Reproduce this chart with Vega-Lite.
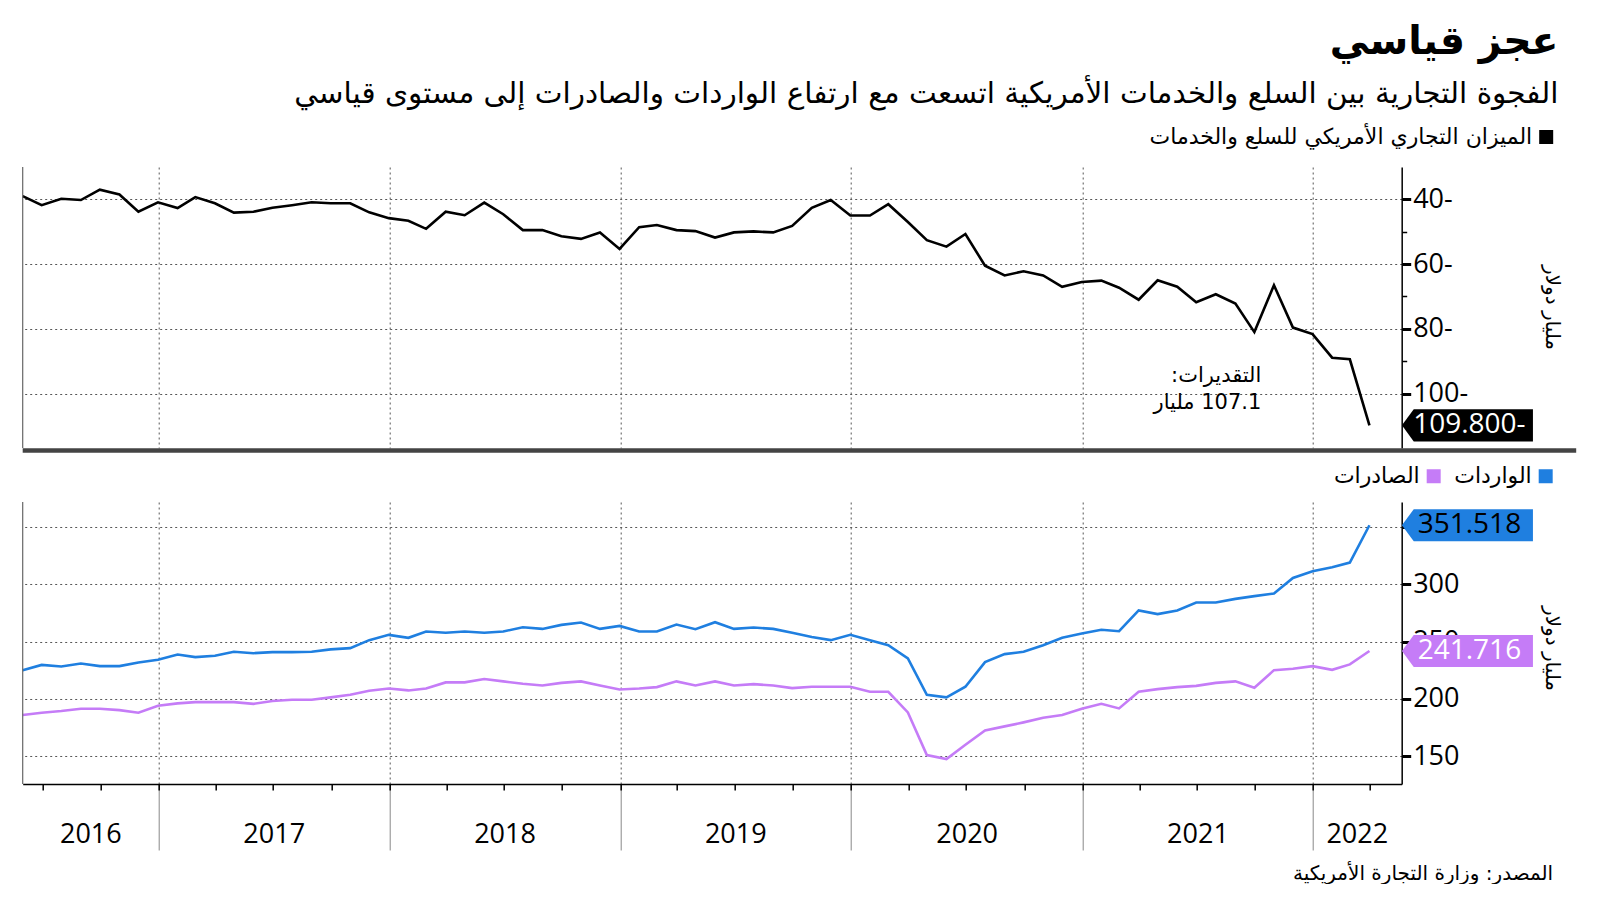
{
  "$schema": "https://vega.github.io/schema/vega-lite/v6.json",
  "background": "white",
  "padding": {"left": 16.7, "top": 22, "right": 0, "bottom": 0},
  "config": {
    "view": {"stroke": null},
    "font": "Open Sans",
    "axis": {"labelFont": "Open Sans", "labelColor": "black", "titleFont": "DejaVu Sans", "titleFontWeight": "normal", "titleColor": "black", "domainColor": "black", "tickColor": "black"}
  },
  "title": {
    "text": "عجز قياسي",
    "subtitle": "الفجوة التجارية بين السلع والخدمات الأمريكية اتسعت مع ارتفاع الواردات والصادرات إلى مستوى قياسي",
    "anchor": "end",
    "frame": "bounds",
    "dx": -20,
    "font": "DejaVu Sans",
    "fontSize": 39.4,
    "fontWeight": "bold",
    "color": "black",
    "subtitleFont": "DejaVu Sans",
    "subtitleFontSize": 29.5,
    "subtitleColor": "black",
    "subtitlePadding": 17,
    "offset": 17
  },
  "datasets": {
    "balance": [
      {"date": "2016-05-31", "value": -39.0}, {"date": "2016-06-30", "value": -41.8}, {"date": "2016-07-31", "value": -39.8}, {"date": "2016-08-31", "value": -40.2}, {"date": "2016-09-30", "value": -37.0}, {"date": "2016-10-31", "value": -38.5}, {"date": "2016-11-30", "value": -43.8}, {"date": "2016-12-31", "value": -40.9},
      {"date": "2017-01-31", "value": -42.7}, {"date": "2017-02-28", "value": -39.3}, {"date": "2017-03-31", "value": -41.2}, {"date": "2017-04-30", "value": -44.1}, {"date": "2017-05-31", "value": -43.8}, {"date": "2017-06-30", "value": -42.6}, {"date": "2017-07-31", "value": -41.8}, {"date": "2017-08-31", "value": -40.9}, {"date": "2017-09-30", "value": -41.2}, {"date": "2017-10-31", "value": -41.2}, {"date": "2017-11-30", "value": -44.0}, {"date": "2017-12-31", "value": -45.8},
      {"date": "2018-01-31", "value": -46.6}, {"date": "2018-02-28", "value": -49.1}, {"date": "2018-03-31", "value": -43.8}, {"date": "2018-04-30", "value": -44.9}, {"date": "2018-05-31", "value": -41.0}, {"date": "2018-06-30", "value": -44.6}, {"date": "2018-07-31", "value": -49.5}, {"date": "2018-08-31", "value": -49.5}, {"date": "2018-09-30", "value": -51.4}, {"date": "2018-10-31", "value": -52.2}, {"date": "2018-11-30", "value": -50.2}, {"date": "2018-12-31", "value": -55.3},
      {"date": "2019-01-31", "value": -48.6}, {"date": "2019-02-28", "value": -47.9}, {"date": "2019-03-31", "value": -49.5}, {"date": "2019-04-30", "value": -49.8}, {"date": "2019-05-31", "value": -51.8}, {"date": "2019-06-30", "value": -50.2}, {"date": "2019-07-31", "value": -49.9}, {"date": "2019-08-31", "value": -50.2}, {"date": "2019-09-30", "value": -48.2}, {"date": "2019-10-31", "value": -42.6}, {"date": "2019-11-30", "value": -40.2}, {"date": "2019-12-31", "value": -45.0},
      {"date": "2020-01-31", "value": -45.0}, {"date": "2020-02-29", "value": -41.5}, {"date": "2020-03-31", "value": -47.0}, {"date": "2020-04-30", "value": -52.6}, {"date": "2020-05-31", "value": -54.6}, {"date": "2020-06-30", "value": -50.7}, {"date": "2020-07-31", "value": -60.5}, {"date": "2020-08-31", "value": -63.5}, {"date": "2020-09-30", "value": -62.2}, {"date": "2020-10-31", "value": -63.5}, {"date": "2020-11-30", "value": -67.0}, {"date": "2020-12-31", "value": -65.5},
      {"date": "2021-01-31", "value": -65.1}, {"date": "2021-02-28", "value": -67.3}, {"date": "2021-03-31", "value": -71.0}, {"date": "2021-04-30", "value": -65.0}, {"date": "2021-05-31", "value": -67.0}, {"date": "2021-06-30", "value": -71.8}, {"date": "2021-07-31", "value": -69.3}, {"date": "2021-08-31", "value": -72.2}, {"date": "2021-09-30", "value": -81.0}, {"date": "2021-10-31", "value": -66.5}, {"date": "2021-11-30", "value": -79.6}, {"date": "2021-12-31", "value": -81.6},
      {"date": "2022-01-31", "value": -88.9}, {"date": "2022-02-28", "value": -89.4}, {"date": "2022-03-31", "value": -109.8}
    ],
    "trade": [
      {"date": "2016-05-31", "series": "الواردات", "value": 225.0}, {"date": "2016-06-30", "series": "الواردات", "value": 229.6}, {"date": "2016-07-31", "series": "الواردات", "value": 228.2}, {"date": "2016-08-31", "series": "الواردات", "value": 230.8}, {"date": "2016-09-30", "series": "الواردات", "value": 228.5}, {"date": "2016-10-31", "series": "الواردات", "value": 228.5}, {"date": "2016-11-30", "series": "الواردات", "value": 231.7}, {"date": "2016-12-31", "series": "الواردات", "value": 234.0},
      {"date": "2017-01-31", "series": "الواردات", "value": 238.7}, {"date": "2017-02-28", "series": "الواردات", "value": 236.4}, {"date": "2017-03-31", "series": "الواردات", "value": 237.5}, {"date": "2017-04-30", "series": "الواردات", "value": 241.0}, {"date": "2017-05-31", "series": "الواردات", "value": 239.8}, {"date": "2017-06-30", "series": "الواردات", "value": 240.7}, {"date": "2017-07-31", "series": "الواردات", "value": 240.7}, {"date": "2017-08-31", "series": "الواردات", "value": 241.0}, {"date": "2017-09-30", "series": "الواردات", "value": 243.1}, {"date": "2017-10-31", "series": "الواردات", "value": 244.2}, {"date": "2017-11-30", "series": "الواردات", "value": 251.2}, {"date": "2017-12-31", "series": "الواردات", "value": 255.8},
      {"date": "2018-01-31", "series": "الواردات", "value": 253.2}, {"date": "2018-02-28", "series": "الواردات", "value": 258.7}, {"date": "2018-03-31", "series": "الواردات", "value": 257.6}, {"date": "2018-04-30", "series": "الواردات", "value": 258.7}, {"date": "2018-05-31", "series": "الواردات", "value": 257.6}, {"date": "2018-06-30", "series": "الواردات", "value": 258.7}, {"date": "2018-07-31", "series": "الواردات", "value": 262.5}, {"date": "2018-08-31", "series": "الواردات", "value": 261.0}, {"date": "2018-09-30", "series": "الواردات", "value": 264.5}, {"date": "2018-10-31", "series": "الواردات", "value": 266.6}, {"date": "2018-11-30", "series": "الواردات", "value": 261.0}, {"date": "2018-12-31", "series": "الواردات", "value": 263.6},
      {"date": "2019-01-31", "series": "الواردات", "value": 258.7}, {"date": "2019-02-28", "series": "الواردات", "value": 258.7}, {"date": "2019-03-31", "series": "الواردات", "value": 264.8}, {"date": "2019-04-30", "series": "الواردات", "value": 260.8}, {"date": "2019-05-31", "series": "الواردات", "value": 266.9}, {"date": "2019-06-30", "series": "الواردات", "value": 261.0}, {"date": "2019-07-31", "series": "الواردات", "value": 262.2}, {"date": "2019-08-31", "series": "الواردات", "value": 261.0}, {"date": "2019-09-30", "series": "الواردات", "value": 257.6}, {"date": "2019-10-31", "series": "الواردات", "value": 254.0}, {"date": "2019-11-30", "series": "الواردات", "value": 251.2}, {"date": "2019-12-31", "series": "الواردات", "value": 255.8},
      {"date": "2020-01-31", "series": "الواردات", "value": 251.2}, {"date": "2020-02-29", "series": "الواردات", "value": 246.8}, {"date": "2020-03-31", "series": "الواردات", "value": 235.2}, {"date": "2020-04-30", "series": "الواردات", "value": 203.5}, {"date": "2020-05-31", "series": "الواردات", "value": 201.2}, {"date": "2020-06-30", "series": "الواردات", "value": 210.5}, {"date": "2020-07-31", "series": "الواردات", "value": 232.0}, {"date": "2020-08-31", "series": "الواردات", "value": 239.0}, {"date": "2020-09-30", "series": "الواردات", "value": 241.0}, {"date": "2020-10-31", "series": "الواردات", "value": 246.8}, {"date": "2020-11-30", "series": "الواردات", "value": 253.2}, {"date": "2020-12-31", "series": "الواردات", "value": 257.0},
      {"date": "2021-01-31", "series": "الواردات", "value": 260.2}, {"date": "2021-02-28", "series": "الواردات", "value": 259.0}, {"date": "2021-03-31", "series": "الواردات", "value": 277.1}, {"date": "2021-04-30", "series": "الواردات", "value": 273.9}, {"date": "2021-05-31", "series": "الواردات", "value": 277.1}, {"date": "2021-06-30", "series": "الواردات", "value": 284.0}, {"date": "2021-07-31", "series": "الواردات", "value": 284.0}, {"date": "2021-08-31", "series": "الواردات", "value": 287.2}, {"date": "2021-09-30", "series": "الواردات", "value": 289.6}, {"date": "2021-10-31", "series": "الواردات", "value": 291.9}, {"date": "2021-11-30", "series": "الواردات", "value": 305.5}, {"date": "2021-12-31", "series": "الواردات", "value": 311.4},
      {"date": "2022-01-31", "series": "الواردات", "value": 314.9}, {"date": "2022-02-28", "series": "الواردات", "value": 318.9}, {"date": "2022-03-31", "series": "الواردات", "value": 351.518},
      {"date": "2016-05-31", "series": "الصادرات", "value": 185.8}, {"date": "2016-06-30", "series": "الصادرات", "value": 187.8}, {"date": "2016-07-31", "series": "الصادرات", "value": 189.3}, {"date": "2016-08-31", "series": "الصادرات", "value": 191.3}, {"date": "2016-09-30", "series": "الصادرات", "value": 191.3}, {"date": "2016-10-31", "series": "الصادرات", "value": 190.1}, {"date": "2016-11-30", "series": "الصادرات", "value": 187.8}, {"date": "2016-12-31", "series": "الصادرات", "value": 193.9},
      {"date": "2017-01-31", "series": "الصادرات", "value": 196.0}, {"date": "2017-02-28", "series": "الصادرات", "value": 197.1}, {"date": "2017-03-31", "series": "الصادرات", "value": 197.1}, {"date": "2017-04-30", "series": "الصادرات", "value": 197.1}, {"date": "2017-05-31", "series": "الصادرات", "value": 195.6}, {"date": "2017-06-30", "series": "الصادرات", "value": 198.0}, {"date": "2017-07-31", "series": "الصادرات", "value": 199.1}, {"date": "2017-08-31", "series": "الصادرات", "value": 199.1}, {"date": "2017-09-30", "series": "الصادرات", "value": 201.2}, {"date": "2017-10-31", "series": "الصادرات", "value": 203.5}, {"date": "2017-11-30", "series": "الصادرات", "value": 207.0}, {"date": "2017-12-31", "series": "الصادرات", "value": 209.0},
      {"date": "2018-01-31", "series": "الصادرات", "value": 207.3}, {"date": "2018-02-28", "series": "الصادرات", "value": 209.0}, {"date": "2018-03-31", "series": "الصادرات", "value": 214.3}, {"date": "2018-04-30", "series": "الصادرات", "value": 214.3}, {"date": "2018-05-31", "series": "الصادرات", "value": 217.2}, {"date": "2018-06-30", "series": "الصادرات", "value": 215.2}, {"date": "2018-07-31", "series": "الصادرات", "value": 213.1}, {"date": "2018-08-31", "series": "الصادرات", "value": 211.6}, {"date": "2018-09-30", "series": "الصادرات", "value": 213.9}, {"date": "2018-10-31", "series": "الصادرات", "value": 215.2}, {"date": "2018-11-30", "series": "الصادرات", "value": 211.6}, {"date": "2018-12-31", "series": "الصادرات", "value": 208.1},
      {"date": "2019-01-31", "series": "الصادرات", "value": 209.0}, {"date": "2019-02-28", "series": "الصادرات", "value": 210.2}, {"date": "2019-03-31", "series": "الصادرات", "value": 215.2}, {"date": "2019-04-30", "series": "الصادرات", "value": 211.6}, {"date": "2019-05-31", "series": "الصادرات", "value": 215.2}, {"date": "2019-06-30", "series": "الصادرات", "value": 211.6}, {"date": "2019-07-31", "series": "الصادرات", "value": 212.8}, {"date": "2019-08-31", "series": "الصادرات", "value": 211.6}, {"date": "2019-09-30", "series": "الصادرات", "value": 209.3}, {"date": "2019-10-31", "series": "الصادرات", "value": 210.5}, {"date": "2019-11-30", "series": "الصادرات", "value": 210.5}, {"date": "2019-12-31", "series": "الصادرات", "value": 210.5},
      {"date": "2020-01-31", "series": "الصادرات", "value": 206.1}, {"date": "2020-02-29", "series": "الصادرات", "value": 206.1}, {"date": "2020-03-31", "series": "الصادرات", "value": 188.1}, {"date": "2020-04-30", "series": "الصادرات", "value": 150.9}, {"date": "2020-05-31", "series": "الصادرات", "value": 147.4}, {"date": "2020-06-30", "series": "الصادرات", "value": 159.9}, {"date": "2020-07-31", "series": "الصادرات", "value": 172.4}, {"date": "2020-08-31", "series": "الصادرات", "value": 175.9}, {"date": "2020-09-30", "series": "الصادرات", "value": 179.4}, {"date": "2020-10-31", "series": "الصادرات", "value": 183.4}, {"date": "2020-11-30", "series": "الصادرات", "value": 185.8}, {"date": "2020-12-31", "series": "الصادرات", "value": 191.3},
      {"date": "2021-01-31", "series": "الصادرات", "value": 195.6}, {"date": "2021-02-28", "series": "الصادرات", "value": 191.6}, {"date": "2021-03-31", "series": "الصادرات", "value": 206.1}, {"date": "2021-04-30", "series": "الصادرات", "value": 208.4}, {"date": "2021-05-31", "series": "الصادرات", "value": 210.2}, {"date": "2021-06-30", "series": "الصادرات", "value": 211.3}, {"date": "2021-07-31", "series": "الصادرات", "value": 213.9}, {"date": "2021-08-31", "series": "الصادرات", "value": 215.2}, {"date": "2021-09-30", "series": "الصادرات", "value": 209.6}, {"date": "2021-10-31", "series": "الصادرات", "value": 225.0}, {"date": "2021-11-30", "series": "الصادرات", "value": 226.2}, {"date": "2021-12-31", "series": "الصادرات", "value": 228.5},
      {"date": "2022-01-31", "series": "الصادرات", "value": 225.3}, {"date": "2022-02-28", "series": "الصادرات", "value": 230.0}, {"date": "2022-03-31", "series": "الصادرات", "value": 241.716}
    ]
  },
  "bounds": "flush",
  "spacing": 54,
  "resolve": {"scale": {"x": "independent", "y": "independent", "color": "independent"}, "legend": {"color": "independent"}},
  "vconcat": [
    {
      "width": 1379,
      "height": 281,
      "data": {"name": "balance"},
      "layer": [
        {
          "mark": {"type": "line", "color": "black", "strokeWidth": 2.6},
          "encoding": {
            "x": {
              "field": "date", "type": "temporal",
              "scale": {"type": "utc", "domain": [{"year": 2016, "month": 5, "date": 31, "utc": true}, {"year": 2022, "month": 5, "date": 21, "utc": true}]},
              "axis": {
                "values": [{"year": 2017, "month": 1, "date": 1, "utc": true}, {"year": 2018, "month": 1, "date": 1, "utc": true}, {"year": 2019, "month": 1, "date": 1, "utc": true}, {"year": 2020, "month": 1, "date": 1, "utc": true}, {"year": 2021, "month": 1, "date": 1, "utc": true}, {"year": 2022, "month": 1, "date": 1, "utc": true}],
                "grid": true, "gridDash": [2, 3], "gridColor": "#555555", "gridWidth": 1,
                "ticks": false, "labels": false, "domain": false,
                "title": null
              }
            },
            "y": {
              "field": "value", "type": "quantitative",
              "scale": {"domain": [-116.8, -30], "nice": false, "zero": false},
              "axis": {
                "orient": "right",
                "values": [-100, -90, -80, -70, -60, -50, -40],
                "labelExpr": "datum.value % 20 == 0 ? format(abs(datum.value), 'd') + '-' : ''",
                "grid": true, "gridDash": [2, 3], "gridColor": "#555555",
                "gridOpacity": {"condition": {"test": "datum.value % 20 == 0", "value": 1}, "value": 0},
                "tickSize": {"condition": {"test": "datum.value % 20 == 0", "value": 9}, "value": 5},
                "tickWidth": {"condition": {"test": "datum.value % 20 == 0", "value": 3}, "value": 1.5},
                "domainWidth": 1.5,
                "labelFontSize": 27, "labelPadding": 2,
                "title": "مليار دولار", "titleAngle": 90, "titleX": 150, "titleY": 140,
                "titleAlign": "center", "titleBaseline": "middle", "titleFontSize": 20
              }
            },
            "color": {
              "datum": "الميزان التجاري الأمريكي للسلع والخدمات", "type": "nominal",
              "scale": {"range": ["#000000"]},
              "legend": {
                "orient": "none", "legendX": 1512.5, "legendY": -41, "padding": 0, "title": null,
                "symbolType": "square", "symbolSize": 49, "symbolStrokeWidth": 7,
                "labelFont": "DejaVu Sans", "labelFontSize": 22, "labelColor": "black",
                "labelAlign": "right", "labelOffset": -25, "labelLimit": 0
              }
            }
          }
        },
        {
          "transform": [{"filter": {"field": "date", "equal": {"year": 2022, "month": 3, "date": 31, "utc": true}}}],
          "mark": {"type": "rule", "color": "#666666", "strokeWidth": 1.2},
          "encoding": {"x": {"datum": {"year": 2016, "month": 5, "date": 31, "utc": true}, "type": "temporal"}}
        },
        {
          "transform": [{"filter": {"field": "date", "equal": {"year": 2022, "month": 3, "date": 31, "utc": true}}}],
          "mark": {"type": "rule", "color": "#444444", "strokeWidth": 4.5},
          "encoding": {
            "x": {"datum": {"year": 2016, "month": 5, "date": 31, "utc": true}, "type": "temporal"},
            "x2": {"datum": {"year": 2023, "month": 2, "date": 21, "utc": true}},
            "y": {"datum": -117.6, "type": "quantitative"}
          }
        },
        {
          "transform": [{"filter": {"field": "date", "equal": {"year": 2022, "month": 3, "date": 31, "utc": true}}}],
          "mark": {"type": "point", "shape": "M-1,0L-0.82,-0.245L1,-0.245L1,0.245L-0.82,0.245Z", "size": 17161, "filled": true, "color": "black", "opacity": 1, "strokeWidth": 0, "xOffset": 98},
          "encoding": {
            "x": {"field": "date", "type": "temporal"},
            "y": {"field": "value", "type": "quantitative"}
          }
        },
        {
          "transform": [{"filter": {"field": "date", "equal": {"year": 2022, "month": 3, "date": 31, "utc": true}}}],
          "mark": {"type": "text", "color": "white", "font": "Open Sans", "fontSize": 28, "align": "center", "baseline": "middle", "dx": 100, "text": {"expr": "format(abs(datum.value), '.3f') + '-'"}},
          "encoding": {
            "x": {"field": "date", "type": "temporal"},
            "y": {"field": "value", "type": "quantitative"}
          }
        },
        {
          "transform": [{"filter": {"field": "date", "equal": {"year": 2022, "month": 3, "date": 31, "utc": true}}}],
          "mark": {"type": "text", "color": "black", "font": "DejaVu Sans", "fontSize": 21, "align": "right", "baseline": "middle", "text": "\u202bالتقديرات:\u202c"},
          "encoding": {
            "x": {"datum": {"year": 2021, "month": 10, "date": 11, "utc": true}, "type": "temporal"},
            "y": {"datum": -94.7, "type": "quantitative"}
          }
        },
        {
          "transform": [{"filter": {"field": "date", "equal": {"year": 2022, "month": 3, "date": 31, "utc": true}}}],
          "mark": {"type": "text", "color": "black", "font": "DejaVu Sans", "fontSize": 21, "align": "right", "baseline": "middle", "text": "\u202b107.1 مليار\u202c"},
          "encoding": {
            "x": {"datum": {"year": 2021, "month": 10, "date": 11, "utc": true}, "type": "temporal"},
            "y": {"datum": -103.0, "type": "quantitative"}
          }
        }
      ]
    },
    {
      "width": 1379,
      "height": 282,
      "data": {"name": "trade"},
      "resolve": {"axis": {"x": "independent"}},
      "layer": [
        {
          "mark": {"type": "line", "strokeWidth": 2.6},
          "encoding": {
            "x": {
              "field": "date", "type": "temporal",
              "scale": {"type": "utc", "domain": [{"year": 2016, "month": 5, "date": 31, "utc": true}, {"year": 2022, "month": 5, "date": 21, "utc": true}]},
              "axis": {
                "orient": "bottom",
                "values": [{"year": 2017, "month": 1, "date": 1, "utc": true}, {"year": 2018, "month": 1, "date": 1, "utc": true}, {"year": 2019, "month": 1, "date": 1, "utc": true}, {"year": 2020, "month": 1, "date": 1, "utc": true}, {"year": 2021, "month": 1, "date": 1, "utc": true}, {"year": 2022, "month": 1, "date": 1, "utc": true}],
                "grid": true, "gridDash": [2, 3], "gridColor": "#555555", "gridWidth": 1,
                "ticks": true, "tickSize": 66, "tickColor": "#888888", "tickWidth": 1,
                "labels": false, "domain": false, "title": null
              }
            },
            "y": {
              "field": "value", "type": "quantitative",
              "scale": {"domain": [125.6, 371.8], "nice": false, "zero": false},
              "axis": {
                "orient": "right",
                "values": [150, 175, 200, 225, 250, 275, 300, 325, 350],
                "labelExpr": "datum.value % 50 == 0 && datum.value < 340 ? datum.label : ''",
                "grid": true, "gridDash": [2, 3], "gridColor": "#555555",
                "gridOpacity": {"condition": {"test": "datum.value % 50 == 0", "value": 1}, "value": 0},
                "tickSize": {"condition": {"test": "datum.value % 50 == 0", "value": 9}, "value": 5},
                "tickWidth": {"condition": {"test": "datum.value % 50 == 0", "value": 3}, "value": 1.5},
                "domainWidth": 1.5,
                "labelFontSize": 27, "labelPadding": 2,
                "title": "مليار دولار", "titleAngle": 90, "titleX": 150, "titleY": 146,
                "titleAlign": "center", "titleBaseline": "middle", "titleFontSize": 20
              }
            },
            "color": {
              "field": "series", "type": "nominal",
              "scale": {"domain": ["الواردات", "الصادرات"], "range": ["#1f7fe0", "#c57cf7"]},
              "legend": {
                "orient": "none", "legendX": 1400, "legendY": -37, "padding": 0, "title": null,
                "direction": "horizontal", "values": ["الصادرات", "الواردات"],
                "symbolType": "square", "symbolSize": 49, "symbolStrokeWidth": 7,
                "labelFont": "DejaVu Sans", "labelFontSize": 22, "labelColor": "black",
                "labelAlign": "right", "labelOffset": -25, "columnPadding": 2, "labelLimit": 0
              }
            }
          }
        },
        {
          "transform": [{"filter": {"field": "date", "equal": {"year": 2022, "month": 3, "date": 31, "utc": true}}}, {"filter": {"field": "series", "equal": "الواردات"}}],
          "mark": {"type": "rule", "color": "#666666", "strokeWidth": 1.2},
          "encoding": {"x": {"datum": {"year": 2016, "month": 5, "date": 31, "utc": true}, "type": "temporal", "axis": null}}
        },
        {
          "transform": [{"filter": {"field": "date", "equal": {"year": 2022, "month": 3, "date": 31, "utc": true}}}, {"filter": {"field": "series", "equal": "الواردات"}}],
          "mark": {"type": "point", "shape": "M-1,0L-0.82,-0.245L1,-0.245L1,0.245L-0.82,0.245Z", "size": 17161, "filled": true, "color": "#1f7fe0", "opacity": 1, "strokeWidth": 0, "xOffset": 98},
          "encoding": {
            "x": {
              "field": "date", "type": "temporal",
              "axis": {
                "orient": "bottom",
                "values": [{"year": 2016, "month": 7, "date": 1, "utc": true}, {"year": 2016, "month": 10, "date": 1, "utc": true}, {"year": 2017, "month": 1, "date": 1, "utc": true}, {"year": 2017, "month": 4, "date": 1, "utc": true}, {"year": 2017, "month": 7, "date": 1, "utc": true}, {"year": 2017, "month": 10, "date": 1, "utc": true}, {"year": 2018, "month": 1, "date": 1, "utc": true}, {"year": 2018, "month": 4, "date": 1, "utc": true}, {"year": 2018, "month": 7, "date": 1, "utc": true}, {"year": 2018, "month": 10, "date": 1, "utc": true}, {"year": 2019, "month": 1, "date": 1, "utc": true}, {"year": 2019, "month": 4, "date": 1, "utc": true}, {"year": 2019, "month": 7, "date": 1, "utc": true}, {"year": 2019, "month": 10, "date": 1, "utc": true}, {"year": 2020, "month": 1, "date": 1, "utc": true}, {"year": 2020, "month": 4, "date": 1, "utc": true}, {"year": 2020, "month": 7, "date": 1, "utc": true}, {"year": 2020, "month": 10, "date": 1, "utc": true}, {"year": 2021, "month": 1, "date": 1, "utc": true}, {"year": 2021, "month": 4, "date": 1, "utc": true}, {"year": 2021, "month": 7, "date": 1, "utc": true}, {"year": 2021, "month": 10, "date": 1, "utc": true}, {"year": 2022, "month": 1, "date": 1, "utc": true}, {"year": 2022, "month": 4, "date": 1, "utc": true}],
                "grid": false, "ticks": true, "tickSize": 6, "tickWidth": 1.5, "tickColor": "black",
                "labels": false, "domain": true, "domainWidth": 1.5, "domainColor": "black", "title": null
              }
            },
            "y": {"field": "value", "type": "quantitative"}
          }
        },
        {
          "transform": [{"filter": {"field": "date", "equal": {"year": 2022, "month": 3, "date": 31, "utc": true}}}, {"filter": {"field": "series", "equal": "الصادرات"}}],
          "mark": {"type": "point", "shape": "M-1,0L-0.82,-0.245L1,-0.245L1,0.245L-0.82,0.245Z", "size": 17161, "filled": true, "color": "#c57cf7", "opacity": 1, "strokeWidth": 0, "xOffset": 98},
          "encoding": {
            "x": {
              "field": "date", "type": "temporal",
              "axis": {
                "orient": "bottom",
                "values": [{"year": 2016, "month": 9, "date": 15, "utc": true}, {"year": 2017, "month": 7, "date": 2, "utc": true}, {"year": 2018, "month": 7, "date": 2, "utc": true}, {"year": 2019, "month": 7, "date": 2, "utc": true}, {"year": 2020, "month": 7, "date": 2, "utc": true}, {"year": 2021, "month": 7, "date": 2, "utc": true}, {"year": 2022, "month": 3, "date": 11, "utc": true}],
                "format": "%Y", "grid": false, "ticks": false, "tickSize": 0, "domain": false,
                "labelFontSize": 27, "labelPadding": 51, "labelBaseline": "middle", "labelFlush": false, "labelOverlap": false,
                "title": "المصدر: وزارة التجارة الأمريكية", "titleX": 1530, "titleY": 90, "titleAlign": "right",
                "titleBaseline": "middle", "titleFontSize": 20
              }
            },
            "y": {"field": "value", "type": "quantitative"}
          }
        },
        {
          "transform": [{"filter": {"field": "date", "equal": {"year": 2022, "month": 3, "date": 31, "utc": true}}}, {"filter": {"field": "series", "equal": "الواردات"}}],
          "mark": {"type": "text", "color": "black", "font": "Open Sans", "fontSize": 28, "align": "center", "baseline": "middle", "dx": 100, "text": {"expr": "format(datum.value, '.3f')"}},
          "encoding": {
            "x": {"field": "date", "type": "temporal", "axis": null},
            "y": {"field": "value", "type": "quantitative"}
          }
        },
        {
          "transform": [{"filter": {"field": "date", "equal": {"year": 2022, "month": 3, "date": 31, "utc": true}}}, {"filter": {"field": "series", "equal": "الصادرات"}}],
          "mark": {"type": "text", "color": "white", "font": "Open Sans", "fontSize": 28, "align": "center", "baseline": "middle", "dx": 100, "text": {"expr": "format(datum.value, '.3f')"}},
          "encoding": {
            "x": {"field": "date", "type": "temporal", "axis": null},
            "y": {"field": "value", "type": "quantitative"}
          }
        }
      ]
    }
  ]
}
